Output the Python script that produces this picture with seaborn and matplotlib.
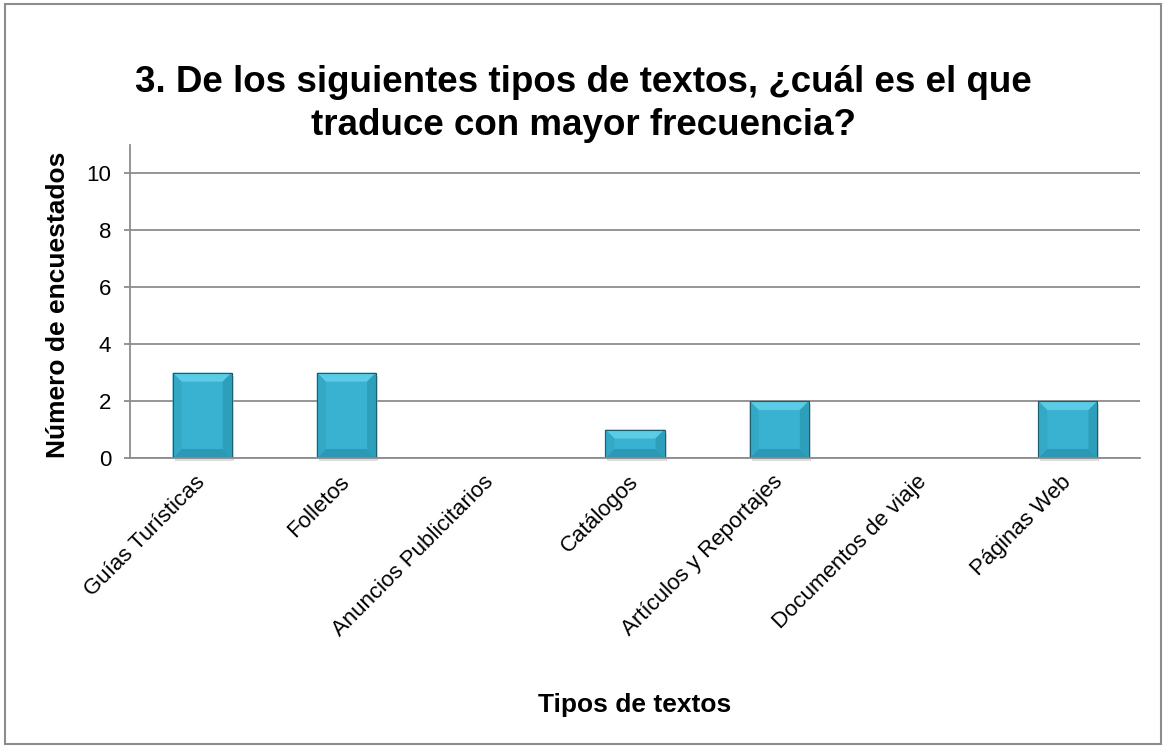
import matplotlib
matplotlib.use("Agg")
import matplotlib.pyplot as plt
import seaborn as sns
import pandas as pd
from matplotlib.patches import Rectangle, Polygon

categorias = ["Guías Turísticas", "Folletos", "Anuncios Publicitarios", "Catálogos",
              "Artículos y Reportajes", "Documentos de viaje", "Páginas Web"]
encuestados = [3, 3, 0, 1, 2, 0, 2]
y_ticks = [0, 2, 4, 6, 8, 10]

titulo = "3. De los siguientes tipos de textos, ¿cuál es el que\ntraduce con mayor frecuencia?"
etiqueta_x = "Tipos de textos"
etiqueta_y = "Número de encuestados"

sns.set_style("white")
plt.rcParams["font.family"] = ["Liberation Sans", "DejaVu Sans"]
plt.rcParams["text.color"] = "black"

df = pd.DataFrame({"tipo": categorias, "n": encuestados})

W, H = 1167, 747
fig = plt.figure(figsize=(W / 100, H / 100), dpi=100)
ax = fig.add_axes([130 / W, 1 - 458 / H, 1010 / W, 313 / H])

sns.barplot(data=df, x="tipo", y="n", color="#38b2d0", width=0.41,
            edgecolor="#1d5f70", linewidth=0.8, saturation=1, ax=ax, zorder=3)

ax.set_xlim(-0.5, len(categorias) - 0.5)
ax.set_ylim(0, 11)

# bevelled look on each bar: light top band, darker bottom and side bands
units_x = (len(categorias)) / 1010
units_y = 11 / 313
for p in list(ax.patches):
    x0, y0 = p.get_x(), p.get_y()
    w, h = p.get_width(), p.get_height()
    if h <= 0:
        continue
    dx = 9 * units_x
    dy = min(9 * units_y, h / 2)
    top = Polygon([(x0, y0 + h), (x0 + w, y0 + h), (x0 + w - dx, y0 + h - dy), (x0 + dx, y0 + h - dy)],
                  closed=True, facecolor="#5ccbe6", edgecolor="none", zorder=4)
    bot = Polygon([(x0, y0), (x0 + w, y0), (x0 + w - dx, y0 + dy), (x0 + dx, y0 + dy)],
                  closed=True, facecolor="#2c98b3", edgecolor="none", zorder=4)
    left = Polygon([(x0, y0), (x0, y0 + h), (x0 + dx, y0 + h - dy), (x0 + dx, y0 + dy)],
                   closed=True, facecolor="#34a9c6", edgecolor="none", zorder=4)
    right = Polygon([(x0 + w, y0), (x0 + w, y0 + h), (x0 + w - dx, y0 + h - dy), (x0 + w - dx, y0 + dy)],
                    closed=True, facecolor="#2e9fbb", edgecolor="none", zorder=4)
    shadow = Rectangle((x0 + 2 * units_x, y0 - 3 * units_y), w, h,
                       facecolor="#bfbfbf", edgecolor="none", alpha=0.5, zorder=2, clip_on=False)
    for patch in (shadow, top, bot, left, right):
        ax.add_patch(patch)
    ax.add_patch(Rectangle((x0, y0), w, h, facecolor="none", edgecolor="#1d5f70",
                           linewidth=0.8, zorder=5))

ax.set_yticks(y_ticks)
ax.yaxis.grid(True, color="#8c8c8c", linewidth=1.3, zorder=0)
ax.set_axisbelow(True)

for s in ["top", "right"]:
    ax.spines[s].set_visible(False)
for s in ["left", "bottom"]:
    ax.spines[s].set_color("#8c8c8c")
    ax.spines[s].set_linewidth(1.3)
    ax.spines[s].set_zorder(6)

ax.set_xticks(range(len(categorias)))
ax.set_xticklabels(categorias, rotation=45, ha="right", va="center",
                   rotation_mode="anchor", fontsize=16, color="black")
ax.tick_params(axis="x", length=0, pad=15)
ax.set_xticks([i - 0.5 for i in range(len(categorias) + 1)], minor=True)
ax.tick_params(axis="x", which="minor", length=5, width=1.3, color="#8c8c8c", direction="out")
ax.tick_params(axis="y", labelsize=16, labelcolor="black", length=4.5, width=1.3,
               color="#8c8c8c", direction="out", left=True, pad=9)

ax.set_xlabel(etiqueta_x, fontsize=19, fontweight="bold", color="black", va="center")
ax.xaxis.set_label_coords(0.5, (458 - 705) / 313)
ax.set_ylabel(etiqueta_y, fontsize=19, fontweight="bold", color="black", va="center")
ax.yaxis.set_label_coords((58 - 130) / 1010, 0.49)

fig.text(0.5, 1 - 104 / H, titulo, ha="center", va="center", fontsize=26.5,
         fontweight="bold", linespacing=1.28, color="black")

fig.patches.append(Rectangle((5 / W, 3 / H), 1156 / W, 740 / H,
                             transform=fig.transFigure, facecolor="none",
                             edgecolor="#8c8c8c", linewidth=1.5))

fig.savefig("out.png", dpi=100)
